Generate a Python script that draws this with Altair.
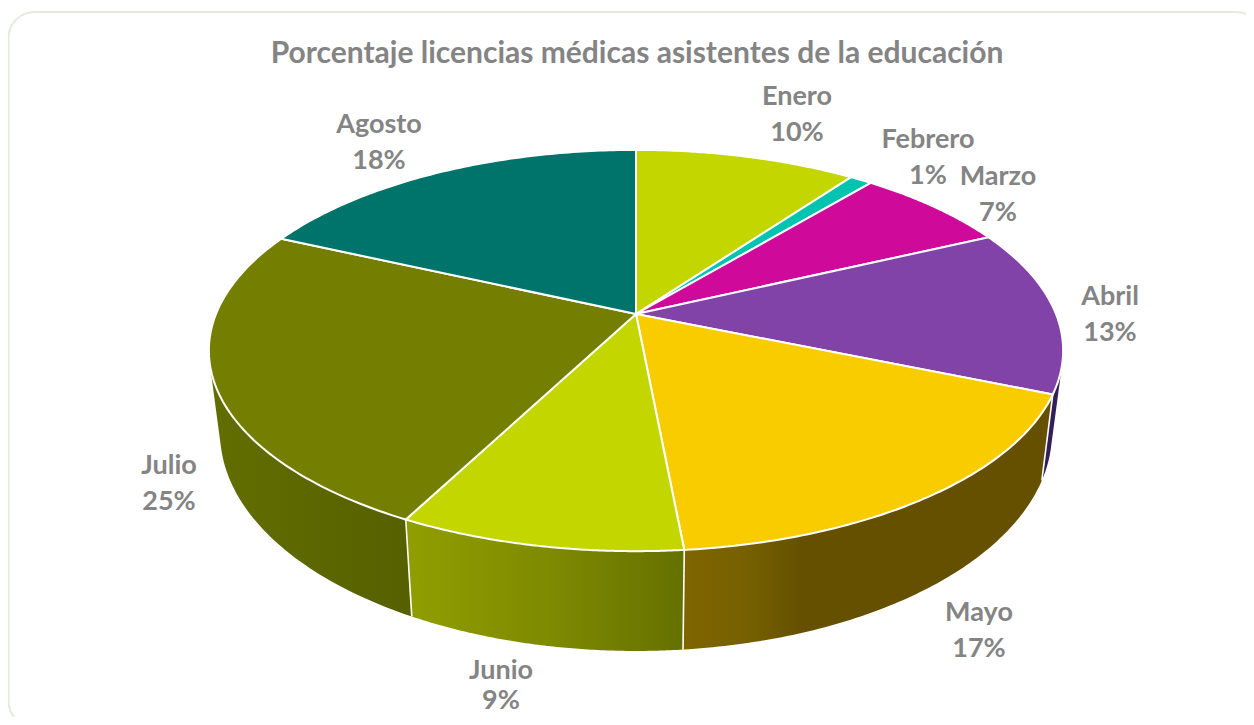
import math
import altair as alt
import pandas as pd

# --- data -------------------------------------------------------------
months = ["Enero", "Febrero", "Marzo", "Abril", "Mayo", "Junio", "Julio", "Agosto"]
values = [10.0, 1.0, 7.0, 13.3, 17.2, 9.1, 24.25, 18.15]
labels = ["10%", "1%", "7%", "13%", "17%", "9%", "25%", "18%"]
title_text = "Porcentaje licencias médicas asistentes de la educación"

# --- styles -----------------------------------------------------------
top_colors = ["#c3d600", "#00c4b0", "#cf0a9a", "#8243a8", "#f9cc00", "#c3d600", "#747e00", "#00746a"]


def grad(*stops):
    return alt.LinearGradient(
        gradient="linear", x1=0, x2=1, y1=0, y2=0,
        stops=[alt.GradientStop(offset=o, color=c) for o, c in stops],
    )


wall_fills = {
    "Abril": "#33205a",
    "Julio": grad((0, "#636e00"), (0.5, "#5c6700"), (1, "#566000")),
    "Junio": grad((0, "#919e00"), (0.5, "#7f8b00"), (1, "#657100")),
    "Mayo": grad((0, "#806500"), (0.18, "#756000"), (0.32, "#655000"), (1, "#655000")),
}
wall_order = ["Abril", "Julio", "Junio", "Mayo"]

# perspective disc: apex, half-axes, foreshortening (top rim and bottom rim)
K = 0.182
TOP = dict(cx=636, cy=314, a=420, b=194)
BOTTOM = dict(cx=636, cy=393, a=409, b=211)
label_xy = {
    "Enero": (797, 96.5), "Febrero": (928, 139.5), "Marzo": (998, 176.5), "Abril": (1110, 296.5),
    "Mayo": (979, 612.5), "Junio": (501, 671), "Julio": (169, 465.5), "Agosto": (379, 124.5),
}
LINE_GAP = 36
LAST_GAP = {"Junio": 30}
TXT = "#848484"

proj = alt.Projection(type="identity", scale=1, translate=[-8, -8])


def rim(plane, t0, t1, n=90):
    pts = []
    for i in range(n + 1):
        t = math.radians(t0 + (t1 - t0) * i / n)
        u, v = math.sin(t), math.cos(t)
        w = 1 + K * v
        pts.append([plane["cx"] + plane["a"] * u / w, plane["cy"] - plane["b"] * v / w])
    return pts


def feature(ring):
    return {"type": "Feature", "properties": {},
            "geometry": {"type": "Polygon", "coordinates": [ring]}}


def wall_feature(t0, t1):
    top, bot = rim(TOP, t0, t1), rim(BOTTOM, t0, t1)
    quads = []
    for i in range(len(top) - 1):
        q = [top[i], top[i + 1], bot[i + 1], bot[i]]
        area = sum(q[j][0] * q[(j + 1) % 4][1] - q[(j + 1) % 4][0] * q[j][1] for j in range(4))
        if area < 0:
            q = q[::-1]
        quads.append([q + [q[0]]])
    return {"type": "Feature", "properties": {},
            "geometry": {"type": "MultiPolygon", "coordinates": quads}}


total = sum(values)
spans = {}
acc = 0.0
for m, val in zip(months, values):
    spans[m] = (acc / total * 360, (acc + val) / total * 360)
    acc += val

layers = []
# card
layers.append(
    alt.Chart(alt.Data(values=[{"k": 1}])).mark_rect(
        fill="white", stroke="#e4ebdc", strokeWidth=2, cornerRadius=26
    ).encode(x=alt.value(0.5), x2=alt.value(1254), y=alt.value(4), y2=alt.value(719))
)
# side walls
for m in wall_order:
    t0, t1 = spans[m]
    layers.append(
        alt.Chart(alt.Data(values=[wall_feature(t0, t1)])).mark_geoshape(
            fill=wall_fills[m], strokeWidth=0
        ).project(**proj.to_dict())
    )
# white edges between the walls
for m in ["Abril", "Mayo", "Junio"]:
    t = spans[m][1]
    a, b = rim(TOP, t, t, 1)[0], rim(BOTTOM, t, t, 1)[0]
    line = {"type": "Feature", "properties": {},
            "geometry": {"type": "LineString", "coordinates": [a, b]}}
    layers.append(
        alt.Chart(alt.Data(values=[line])).mark_geoshape(
            filled=False, stroke="white", strokeWidth=1.6
        ).project(**proj.to_dict())
    )
# top faces
for m, col in zip(months, top_colors):
    t0, t1 = spans[m]
    ring = [[TOP["cx"], TOP["cy"]]] + rim(TOP, t0, t1) + [[TOP["cx"], TOP["cy"]]]
    layers.append(
        alt.Chart(alt.Data(values=[feature(ring)])).mark_geoshape(
            fill=col, stroke="white", strokeWidth=2
        ).project(**proj.to_dict())
    )
# labels
rows = []
for m, lab in zip(months, labels):
    x, y = label_xy[m]
    rows.append({"lon": x, "lat": y, "txt": m})
    rows.append({"lon": x, "lat": y + LAST_GAP.get(m, LINE_GAP), "txt": lab})
layers.append(
    alt.Chart(pd.DataFrame(rows)).mark_text(
        font="Lato", fontWeight="bold", fontSize=27, color=TXT, align="center", baseline="middle"
    ).encode(longitude="lon:Q", latitude="lat:Q", text="txt:N").project(**proj.to_dict())
)

chart = alt.layer(*layers).properties(
    width=1238, height=709, padding=0, autosize=alt.AutoSizeParams(type="none"),
    title=alt.TitleParams(title_text, font="Lato", fontWeight="bold", fontSize=30, color=TXT,
                          anchor="middle", offset=-61, dx=10),
).configure_view(stroke=None)

chart.save("out.html", embed_options={"renderer": "svg", "actions": False})
